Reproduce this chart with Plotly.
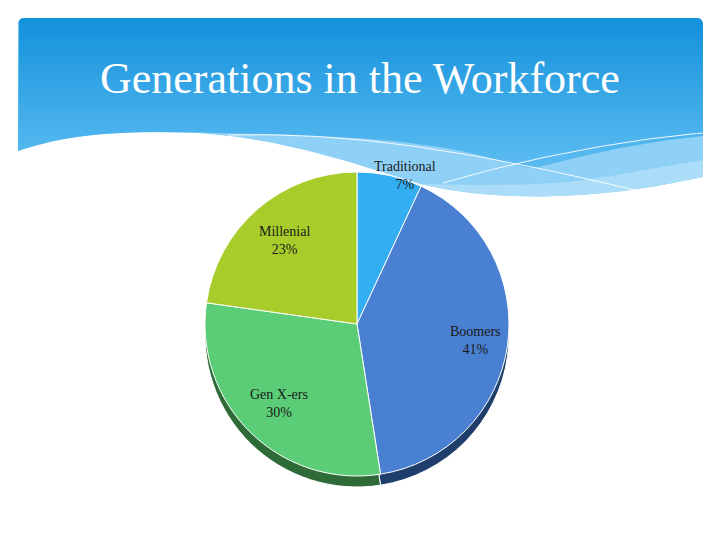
import numpy as np
import plotly.graph_objects as go

# ---------------- data ----------------
categories = ["Traditional", "Boomers", "Gen X-ers", "Millenial"]
shares = [7, 41, 30, 23]
title_text = "Generations in the Workforce"

# ---------------- styling ----------------
slice_colors = ["#33AEF3", "#4A80D1", "#5ACD76", "#A8CD2A"]
shadow_colors = ["#1C6C9C", "#1F3E6C", "#2E6B39", "#5F7419"]
W, H = 720, 540
cx, cy, R = 357, 324, 152          # pie centre / radius in pixels
depth = 11                          # 3-D rim depth in pixels
label_radius = [1.0, 0.79, 0.73, 0.73]
label_xshift = [15, 0, 0, 0]


def bez(p0, p1, p2, p3, n=40):
    t = np.linspace(0, 1, n)[:, None]
    p0, p1, p2, p3 = map(np.array, (p0, p1, p2, p3))
    pts = (1 - t) ** 3 * p0 + 3 * (1 - t) ** 2 * t * p1 + 3 * (1 - t) * t ** 2 * p2 + t ** 3 * p3
    return pts


def chain(segs):
    return np.vstack(segs)


def corner(cxp, cyp, r, a0, a1, n=8):
    a = np.linspace(np.radians(a0), np.radians(a1), n)
    return np.column_stack([cxp + r * np.cos(a), cyp + r * np.sin(a)])


# white wave boundary (bottom of whole header), left -> right
wave_W = chain([
    bez((18, 151), (60, 136), (110, 131), (175, 132)),
    bez((175, 132), (260, 134), (330, 155), (420, 184)),
    bez((420, 184), (500, 203), (600, 200), (703, 177)),
])
# boundary of the darker gradient region, left -> right
wave_M = chain([
    bez((18, 151), (60, 136), (110, 131), (175, 132)),
    bez((175, 132), (280, 134), (400, 136), (470, 153)),
    bez((470, 153), (510, 162), (520, 168), (535, 168)),
    bez((535, 168), (580, 156), (640, 142), (703, 136)),
])
# lighter lower band top boundary
wave_L = chain([
    bez((420, 184), (480, 186), (520, 185), (560, 183)),
    bez((560, 183), (620, 176), (670, 165), (703, 160)),
])
line1 = chain([bez((228, 135), (350, 132), (470, 150), (643, 192))])
line2 = chain([bez((443, 183), (520, 160), (620, 140), (703, 133))])

top_edge = chain([
    corner(24, 24, 6, 180, 270),
    corner(697, 24, 6, 270, 360),
])

fig = go.Figure()

# light band (whole header down to white wave)
band = chain([np.array([[18, 151]]), top_edge, np.array([[703, 177]]), wave_W[::-1]])
fig.add_trace(go.Scatter(x=band[:, 0], y=band[:, 1], fill="toself", fillcolor="#8FD0F6",
                         mode="lines", line=dict(width=0), hoverinfo="skip", showlegend=False))
# lightest lower band
low = chain([wave_L, wave_W[::-1][:np.argmin(np.abs(wave_W[::-1][:, 0] - 420)) + 1]])
fig.add_trace(go.Scatter(x=low[:, 0], y=low[:, 1], fill="toself", fillcolor="#ABDDF9",
                         mode="lines", line=dict(width=0), hoverinfo="skip", showlegend=False))
# main gradient region
main = chain([np.array([[18, 151]]), top_edge, np.array([[703, 136]]), wave_M[::-1]])
fig.add_trace(go.Scatter(x=main[:, 0], y=main[:, 1], fill="toself",
                         fillgradient=dict(type="vertical",
                                           colorscale=[[0, "#1391DB"], [1, "#58BAF0"]],
                                           start=18, stop=160),
                         mode="lines", line=dict(width=0), hoverinfo="skip", showlegend=False))
for ln in (line1, line2):
    fig.add_trace(go.Scatter(x=ln[:, 0], y=ln[:, 1], mode="lines",
                             line=dict(color="rgba(255,255,255,0.9)", width=1),
                             hoverinfo="skip", showlegend=False))

# ---------------- pie (shadow rim + top face) ----------------
dom_x = [(cx - R) / W, (cx + R) / W]
dom_y = [(H - cy - R) / H, (H - cy + R) / H]
fig.add_trace(go.Pie(labels=categories, values=shares, sort=False, direction="clockwise",
                     marker=dict(colors=shadow_colors, line=dict(color="white", width=1)),
                     textinfo="none", hoverinfo="skip", showlegend=False,
                     domain=dict(x=dom_x, y=[dom_y[0] - depth / H, dom_y[1] - depth / H])))
fig.add_trace(go.Pie(labels=categories, values=shares, sort=False, direction="clockwise",
                     marker=dict(colors=slice_colors, line=dict(color="white", width=1)),
                     textinfo="none", showlegend=False,
                     domain=dict(x=dom_x, y=dom_y)))

# slice labels, positioned from the data's angles
tot = sum(shares)
cum = np.cumsum(shares)
for i, (cat, s) in enumerate(zip(categories, shares)):
    mid = (cum[i] - s / 2) / tot * 2 * np.pi
    lx = cx + label_radius[i] * R * np.sin(mid)
    ly = cy - label_radius[i] * R * np.cos(mid)
    fig.add_annotation(x=lx, y=ly, xref="x", yref="y", showarrow=False,
                       text=f"{cat}<br>{round(s / tot * 100)}%", xshift=label_xshift[i],
                       font=dict(family="Liberation Serif", size=14, color="#1a1a1a"),
                       align="center")

fig.add_annotation(x=360, y=78, xref="x", yref="y", showarrow=False, text=title_text,
                   font=dict(family="Liberation Serif", size=44, color="white"))

fig.update_layout(width=W, height=H, margin=dict(l=0, r=0, t=0, b=0),
                  paper_bgcolor="white", plot_bgcolor="white",
                  xaxis=dict(range=[0, W], visible=False, fixedrange=True),
                  yaxis=dict(range=[H, 0], visible=False, fixedrange=True))

fig.write_html("out.html", config={"displayModeBar": False},
               post_script="document.body.style.margin='0';document.body.style.overflow='hidden';")
